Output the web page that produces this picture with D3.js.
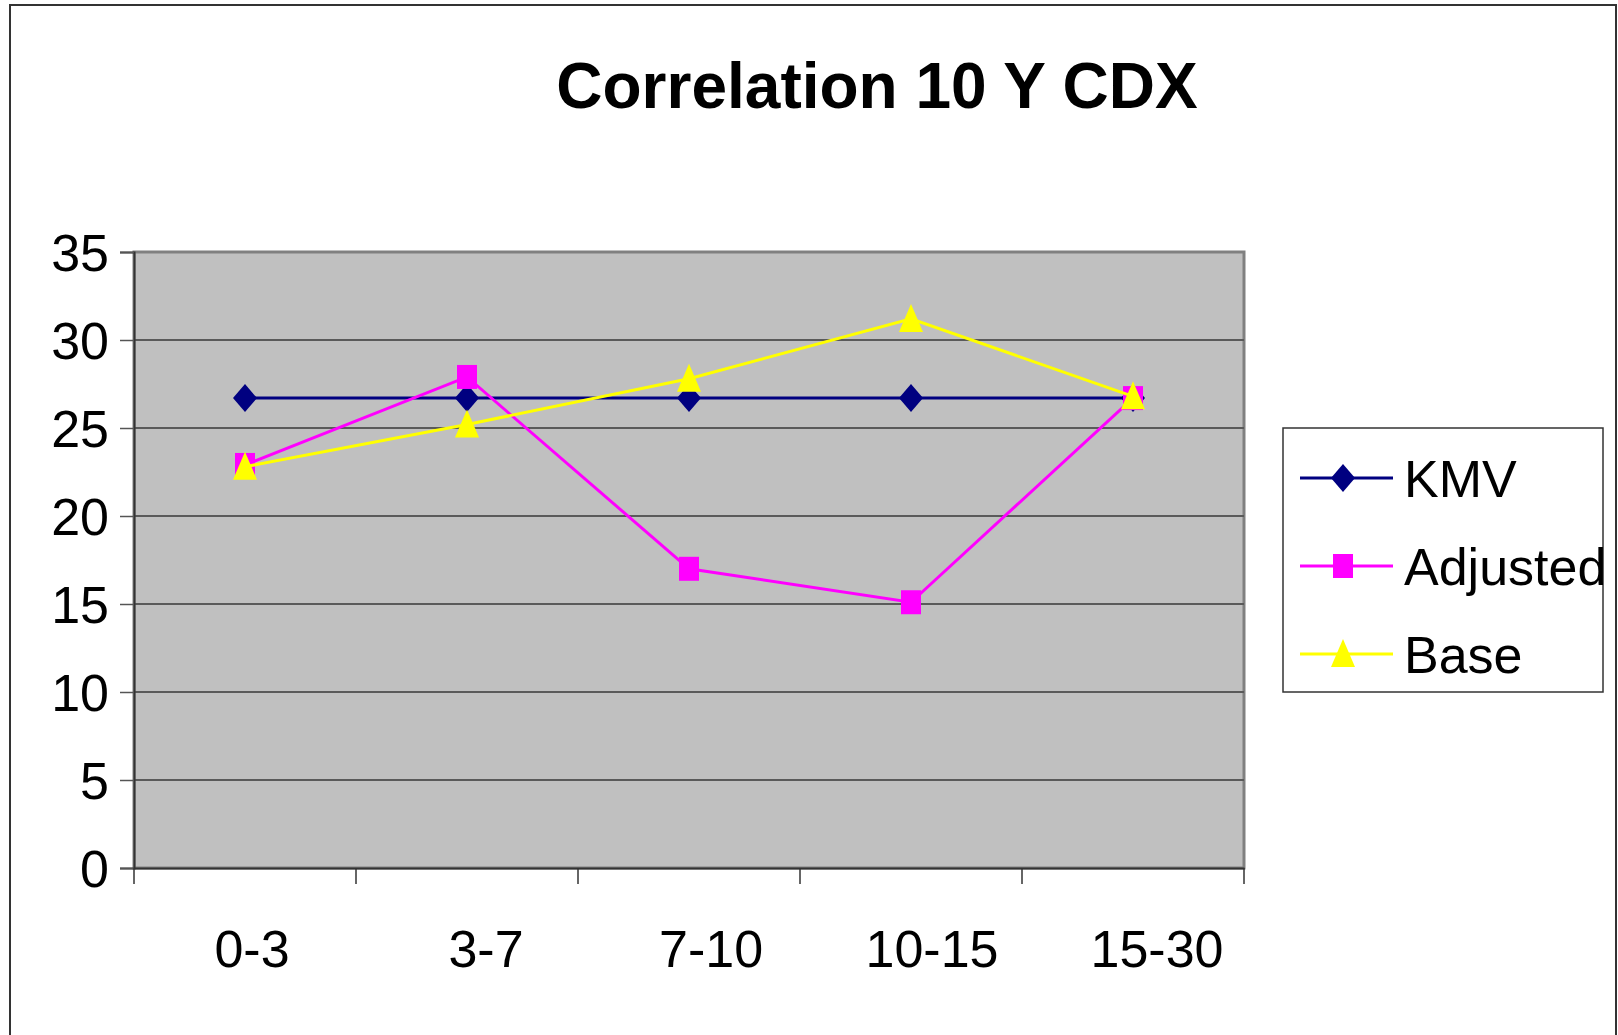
<!DOCTYPE html>
<html lang="en">
<head>
    <meta charset="utf-8">
    <title>Correlation 10 Y CDX</title>
    <script type="text/javascript" src="https://cdn.jsdelivr.net/npm/d3@7"></script>
    <style>
        body { margin: 0; background: #fff; }
        text { font-family: Arial, "Liberation Sans", sans-serif; }
    </style>
</head>
<body>
<script type="text/javascript">
    // data
    var categories = ["0-3", "3-7", "7-10", "10-15", "15-30"];
    var kmv = [26.7, 26.7, 26.7, 26.7, 26.7];
    var adjusted = [22.9, 27.9, 17.0, 15.1, 26.7];
    var base = [22.8, 25.2, 27.8, 31.2, 26.8];
    var yTicks = [0, 5, 10, 15, 20, 25, 30, 35];

    var w = 1618, h = 1035;
    var plot = {left: 134, top: 252, right: 1244, bottom: 868};
    var labelShift = [7, 19, 22, 21, 24];   // category labels sit a bit right of the band centre

    var svg = d3.select("body").append("svg")
        .attr("width", w)
        .attr("height", h);

    // outer chart border
    svg.append("rect")
        .attr("x", 10).attr("y", 5)
        .attr("width", 1606).attr("height", 1040)
        .attr("fill", "#fff")
        .attr("stroke", "#333")
        .attr("stroke-width", 2);

    svg.append("text")
        .attr("x", 877).attr("y", 108)
        .attr("text-anchor", "middle")
        .attr("font-size", "64px")
        .attr("font-weight", "bold")
        .text("Correlation 10 Y CDX");

    var x = d3.scaleBand().domain(categories).range([plot.left, plot.right]);
    var y = d3.scaleLinear().domain([0, 35]).range([plot.bottom, plot.top]);

    // plot area
    svg.append("rect")
        .attr("x", plot.left).attr("y", plot.top)
        .attr("width", plot.right - plot.left)
        .attr("height", plot.bottom - plot.top)
        .attr("fill", "#c0c0c0")
        .attr("stroke", "#808080")
        .attr("stroke-width", 3);

    // gridlines
    svg.selectAll("line.grid")
        .data(yTicks.filter(d => d > 0 && d < 35))
        .enter().append("line")
        .attr("class", "grid")
        .attr("x1", plot.left).attr("x2", plot.right)
        .attr("y1", d => y(d)).attr("y2", d => y(d))
        .attr("stroke", "#5a5a5a")
        .attr("stroke-width", 2);

    // y axis
    var yAxis = svg.append("g")
        .attr("transform", "translate(" + plot.left + ",0)")
        .call(d3.axisLeft(y).tickValues(yTicks).tickSize(14).tickPadding(11));
    yAxis.select(".domain").attr("stroke", "#333").attr("stroke-width", 2);
    yAxis.selectAll(".tick line").attr("stroke", "#555").attr("stroke-width", 1.5);
    yAxis.selectAll(".tick text")
        .attr("font-size", "52px")
        .attr("font-family", "Arial, 'Liberation Sans', sans-serif")
        .attr("fill", "#000")
        .attr("dy", "0.36em");

    // x axis
    var xAxis = svg.append("g")
        .attr("transform", "translate(0," + plot.bottom + ")")
        .call(d3.axisBottom(x).tickSize(0).tickPadding(62));
    xAxis.select(".domain").attr("stroke", "#333").attr("stroke-width", 2);
    xAxis.selectAll(".tick text")
        .attr("font-size", "52px")
        .attr("font-family", "Arial, 'Liberation Sans', sans-serif")
        .attr("fill", "#000")
        .attr("dx", (d, i) => labelShift[i]);

    // category separator ticks
    var edges = categories.map(c => x(c)).concat([plot.right]);
    svg.selectAll("line.xtick")
        .data(edges)
        .enter().append("line")
        .attr("class", "xtick")
        .attr("x1", d => d).attr("x2", d => d)
        .attr("y1", plot.bottom).attr("y2", plot.bottom + 16)
        .attr("stroke", "#333")
        .attr("stroke-width", 1.5);

    var series = [
        {name: "KMV", values: kmv, color: "#000080", shape: "diamond"},
        {name: "Adjusted", values: adjusted, color: "#ff00ff", shape: "square"},
        {name: "Base", values: base, color: "#ffff00", shape: "triangle"}
    ];

    function markerPath(shape) {
        if (shape === "diamond") return "M0,-14L12,0L0,14L-12,0Z";
        if (shape === "square") return "M-10,-12L10,-12L10,12L-10,12Z";
        return "M0,-15L12,13L-12,13Z";
    }

    var cx = c => x(c) + x.bandwidth() / 2;
    var line = d3.line().x((d, i) => cx(categories[i])).y(d => y(d));

    series.forEach(function (s) {
        svg.append("path")
            .attr("d", line(s.values))
            .attr("fill", "none")
            .attr("stroke", s.color)
            .attr("stroke-width", 3);
        svg.selectAll("path.m-" + s.shape)
            .data(s.values)
            .enter().append("path")
            .attr("class", "m-" + s.shape)
            .attr("transform", (d, i) => "translate(" + cx(categories[i]) + "," + y(d) + ")")
            .attr("d", markerPath(s.shape))
            .attr("fill", s.color);
    });

    // legend
    var legend = svg.append("g");
    legend.append("rect")
        .attr("x", 1283).attr("y", 428)
        .attr("width", 320).attr("height", 264)
        .attr("fill", "#fff")
        .attr("stroke", "#333")
        .attr("stroke-width", 1.5);

    var rows = legend.selectAll("g.row")
        .data(series)
        .enter().append("g")
        .attr("class", "row")
        .attr("transform", (d, i) => "translate(0," + (478 + i * 88) + ")");
    rows.append("line")
        .attr("x1", 1300).attr("x2", 1393)
        .attr("stroke", d => d.color)
        .attr("stroke-width", 3);
    rows.append("path")
        .attr("transform", "translate(1343,0)")
        .attr("d", d => markerPath(d.shape))
        .attr("fill", d => d.color);
    rows.append("text")
        .attr("x", 1404).attr("y", 0)
        .attr("dy", "0.36em")
        .attr("font-size", "52px")
        .text(d => d.name);
</script>
</body>
</html>
